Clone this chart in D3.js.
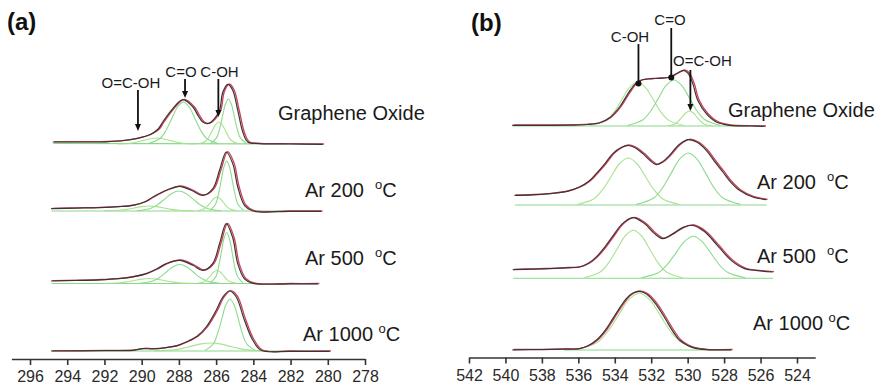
<!DOCTYPE html>
<html><head><meta charset="utf-8">
<script src="https://cdn.jsdelivr.net/npm/d3@7"></script>
<style>
body{margin:0;background:#fff}
svg{display:block;font-family:Arial,"Liberation Sans",sans-serif}
</style>
</head><body>
<svg id="chart" width="876" height="387"></svg>
<script>
// ---------------- DATA (binding energy eV, intensity a.u.) ----------------
// Panel (a) C1s
const a_GO_total = [[294.75,2.3],[293,2.3],[291.9,2.5],[290.9,3.8],[290.27,5.7],[289.55,9.5],[289.1,15],[288.84,22.3],[288.3,35.7],[287.76,44.7],[287.22,37.3],[286.95,29],[286.69,22.3],[286.42,20.7],[286.06,25.7],[285.79,34],[285.61,52.3],[285.34,60],[285.08,54],[284.81,34],[284.54,12.3],[284.27,2.3],[283.64,0.7],[282,0.3],[280.25,0]];
const a_GO_CC = [[284.38,0.5],[284.70,6.1],[284.86,14.6],[285.02,27.3],[285.18,39.7],[285.34,45],[285.50,39.7],[285.66,27.3],[285.82,14.6],[285.98,6.1],[286.30,0.5]];
const a_GO_COH = [[284.80,0.2],[285.15,3],[285.33,7.2],[285.50,13.4],[285.68,19.4],[285.85,22],[286.03,19.4],[286.20,13.4],[286.38,7.2],[286.55,3],[286.90,0.2]];
const a_GO_CO = [[285.90,0.5],[286.52,5.7],[286.83,13.7],[287.14,25.5],[287.45,37],[287.76,42],[288.07,37],[288.38,25.5],[288.69,13.7],[289.00,5.7],[289.62,0.5]];
const a_GO_OCOH = [[287.1,0.1],[287.8,0.8],[288.15,2],[288.5,3.6],[288.85,5.3],[289.2,6],[289.55,5.3],[289.9,3.6],[290.25,2],[290.6,0.8],[291.3,0.1]];
const a_GO_bg = [[294.75,0.6],[280.25,0]];

const a_200_total = [[294.84,2.7],[293.5,3.2],[292.24,3.7],[291.2,4.6],[290.45,6],[289.8,9.5],[289.37,14.3],[288.65,21],[287.94,25],[287.31,21],[286.69,16],[286.15,22.7],[285.79,41],[285.43,59.3],[285.08,47.7],[284.81,24.3],[284.45,6],[284.0,0.3],[282,0],[280.33,0]];
const a_200_CC = [[284.53,0.6],[284.83,6.8],[284.98,16.3],[285.13,30.4],[285.28,44.1],[285.43,50],[285.58,44.1],[285.73,30.4],[285.88,16.3],[286.03,6.8],[286.33,0.6]];
const a_200_COH = [[284.90,0.2],[285.25,1.9],[285.43,4.6],[285.60,8.5],[285.78,12.3],[285.95,14],[286.13,12.3],[286.30,8.5],[286.48,4.6],[286.65,1.9],[287.00,0.2]];
const a_200_CO = [[285.75,0.2],[286.50,2.7],[286.88,6.5],[287.25,12.1],[287.63,17.6],[288.0,20],[288.38,17.6],[288.75,12.1],[289.13,6.5],[289.50,2.7],[290.25,0.2]];
const a_200_OCOH = [[287.2,0.1],[288.0,0.7],[288.4,1.6],[288.8,3],[289.2,4.4],[289.6,5],[290.0,4.4],[290.4,3],[290.8,1.6],[291.2,0.7],[292.0,0.1]];
const a_200_bg = [[294.84,0],[280.33,0]];

const a_500_total = [[294.84,2.8],[293.5,3.3],[292.24,4],[291.2,5.2],[290.45,7],[289.73,10.2],[289.2,14.5],[288.65,20.2],[287.94,23.5],[287.22,18.5],[286.69,13.5],[286.15,20.5],[285.79,40],[285.43,60.2],[285.08,46],[284.81,20],[284.45,5],[284.0,0.5],[282,0],[280.5,0]];
const a_500_CC = [[284.56,0.6],[284.85,6.9],[285.0,16.6],[285.14,31],[285.29,45],[285.43,51],[285.58,45],[285.72,31],[285.87,16.6],[286.01,6.9],[286.30,0.6]];
const a_500_COH = [[284.90,0.1],[285.25,1.8],[285.43,4.2],[285.60,7.9],[285.78,11.5],[285.95,13],[286.13,11.5],[286.30,7.9],[286.48,4.2],[286.65,1.8],[287.00,0.1]];
const a_500_CO = [[285.79,0.2],[286.51,2.6],[286.87,6.2],[287.23,11.5],[287.59,16.8],[287.95,19],[288.31,16.8],[288.67,11.5],[289.03,6.2],[289.39,2.6],[290.11,0.2]];
const a_500_OCOH = [[287.2,0.1],[288.0,0.7],[288.4,1.6],[288.8,3],[289.2,4.4],[289.6,5],[290.0,4.4],[290.4,3],[290.8,1.6],[291.2,0.7],[292.0,0.1]];
const a_500_bg = [[294.84,0],[280.5,0]];

const a_1000_total = [[294.84,0.3],[292,0.6],[290.45,1],[289.91,2.7],[289.4,2.4],[288.65,3.7],[288.1,5.5],[287.58,9.3],[287.0,15],[286.51,24.3],[285.97,41],[285.61,54.3],[285.25,60.3],[284.89,54.3],[284.45,31],[284.0,11],[283.55,1],[282,0],[279.88,0]];
const a_1000_CC = [[283.90,0.6],[284.35,7],[284.58,16.9],[284.80,31.6],[285.03,45.9],[285.25,52],[285.48,45.9],[285.70,31.6],[285.93,16.9],[286.15,7],[286.60,0.6]];
const a_1000_D = [[283.3,0.1],[284.3,1.1],[284.8,2.6],[285.3,4.9],[285.8,7.1],[286.3,8],[286.8,7.1],[287.3,4.9],[287.8,2.6],[288.3,1.1],[289.3,0.1]];
const a_1000_bg = [[294.84,0],[279.88,0]];

// Panel (b) O1s
const b_GO_total = [[539.6,1],[538,1],[536.5,1.2],[535.5,1.8],[534.81,3.5],[534.26,8.5],[533.71,19.3],[533.27,32],[532.9,41.5],[532.55,46],[532.0,47.5],[531.5,48],[530.97,49],[530.55,53],[530.2,56],[529.95,53],[529.69,42.7],[529.42,26],[528.95,12.7],[528.4,4.3],[527.68,1],[526.5,0.3],[525.75,0]];
const b_GO_COH = [[530.2,0.5],[531.05,5.9],[531.48,14.3],[531.9,26.7],[532.33,38.8],[532.75,44],[533.18,38.8],[533.6,26.7],[534.03,14.3],[534.45,5.9],[535.3,0.5]];
const b_GO_CO = [[528.2,0.5],[529.05,6.2],[529.48,15],[529.9,27.9],[530.33,40.6],[530.75,46],[531.18,40.6],[531.6,27.9],[532.03,15],[532.45,6.2],[533.3,0.5]];
const b_GO_OCOH = [[528.7,0.2],[529.1,2],[529.3,4.9],[529.5,9.1],[529.7,13.2],[529.9,15],[530.1,13.2],[530.3,9.1],[530.5,4.9],[530.7,2],[531.1,0.2]];
const b_GO_bg = [[539.6,0],[525.75,0]];

const b_200_total = [[539.48,10],[538.5,10.5],[537.55,11.7],[536.6,14],[535.91,18.3],[535.4,24],[534.99,31.7],[534.5,42],[534.08,51.7],[533.6,58],[533.26,60],[532.85,57.5],[532.43,51.7],[532.05,45],[531.70,40.7],[531.35,43.5],[530.97,50],[530.45,60.5],[529.96,65.7],[529.45,63],[528.95,55],[528.5,44],[528.04,33.3],[527.6,23],[527.13,15],[526.4,8.3],[525.66,5.7]];
const b_200_P1 = [[530.44,0.5],[531.38,6.3],[531.85,15.3],[532.32,28.5],[532.79,41.5],[533.26,47],[533.73,41.5],[534.2,28.5],[534.67,15.3],[535.14,6.3],[536.08,0.5]];
const b_200_P2 = [[527.11,0.6],[528.06,7],[528.54,16.9],[529.01,31.6],[529.49,45.9],[529.96,52],[530.44,45.9],[530.91,31.6],[531.39,16.9],[531.86,7],[532.81,0.6]];
const b_200_bg = [[539.48,0],[525.66,0]];

const b_500_total = [[539.57,9],[538.5,9.5],[537.55,10],[536.6,10.8],[535.91,11.6],[535.4,15.5],[534.97,22],[534.5,32],[534.10,42],[533.55,55],[532.98,61],[532.34,55],[531.79,45],[531.35,40],[530.86,44],[530.25,51],[529.69,53.3],[529.05,47],[528.33,33],[527.57,18],[526.85,10],[526.14,8],[525.31,6.6]];
const b_500_P1 = [[530.28,0.5],[531.18,6.5],[531.63,15.6],[532.08,29.1],[532.53,42.3],[532.98,48],[533.43,42.3],[533.88,29.1],[534.33,15.6],[534.78,6.5],[535.68,0.5]];
const b_500_P2 = [[526.84,0.5],[527.79,5.7],[528.27,13.7],[528.74,25.5],[529.22,37],[529.69,42],[530.17,37],[530.64,25.5],[531.12,13.7],[531.59,5.7],[532.54,0.5]];
const b_500_bg = [[539.57,0],[525.31,0]];

const b_1000_total = [[539.59,0.5],[538,0.7],[536.8,1.2],[535.91,1.7],[535.45,4.5],[534.99,10],[534.5,20],[534.08,31.7],[533.7,42.5],[533.34,51.7],[533.0,57],[532.65,59],[532.25,56.5],[531.88,50],[531.5,40.5],[531.15,30],[530.8,19.5],[530.41,10],[530.0,5],[529.69,2.7],[528.95,0.7],[527.58,0.5]];
const b_1000_P1 = [[529.2,0.6],[530.35,7.7],[530.93,18.5],[531.5,34.6],[532.08,50.3],[532.65,57],[533.23,50.3],[533.8,34.6],[534.38,18.5],[534.95,7.7],[536.1,0.6]];
const b_1000_bg = [[536.8,0],[527.6,0]];

// Axis ticks
const aTicks = [296,294,292,290,288,286,284,282,280,278];
const aMinor = [297,295,293,291,289,287,285,283,281,279];
const bTicks = [542,540,538,536,534,532,530,528,526,524];
const bMinor = [541,539,537,535,533,531,529,527,525,523];

// Sample labels
const sampleNames = ["Graphene Oxide","Ar 200  ","Ar 500  ","Ar 1000 "];
const sampleUnit = ["","oC","oC","oC"];

// Peak annotations (energy of arrow)
const aAnnLabels = ["O=C-OH","C=O","C-OH"];
const aAnnEnergy = [290.2, 287.67, 285.88];
const bAnnLabels = ["C-OH","C=O","O=C-OH"];
const bAnnEnergy = [532.7, 530.9, 529.85];

// ---------------- LAYOUT ----------------
const svg = d3.select("#chart");
const xA = d3.scaleLinear().domain([297,278]).range([11.4,365]);
const xB = d3.scaleLinear().domain([542,523]).range([469,815.2]);

const baseA = [144,211,283.5,351];
const baseB = [126,205,278.3,350];
const labelA = [[278,120],[305,197],[305,265],[303,341]];
const labelB = [[728,117],[757,189],[757,263],[753,330]];

const rowsA = [
  {total:a_GO_total, comps:[a_GO_OCOH,a_GO_CO,a_GO_COH,a_GO_CC], bg:a_GO_bg},
  {total:a_200_total, comps:[a_200_OCOH,a_200_CO,a_200_COH,a_200_CC], bg:a_200_bg},
  {total:a_500_total, comps:[a_500_OCOH,a_500_CO,a_500_COH,a_500_CC], bg:a_500_bg},
  {total:a_1000_total, comps:[a_1000_D,a_1000_CC], bg:a_1000_bg}
];
const rowsB = [
  {total:b_GO_total, comps:[b_GO_COH,b_GO_CO,b_GO_OCOH], bg:b_GO_bg},
  {total:b_200_total, comps:[b_200_P1,b_200_P2], bg:b_200_bg},
  {total:b_500_total, comps:[b_500_P1,b_500_P2], bg:b_500_bg},
  {total:b_1000_total, comps:[b_1000_P1], bg:b_1000_bg}
];

const green = "#8ad98a";
function drawPanel(x, rows, bases, labels){
  const g = svg.append("g");
  rows.forEach((r,i)=>{
    const y = d3.scaleLinear().domain([0,60]).range([bases[i], bases[i]-60]);
    const line = d3.line().x(d=>x(d[0])).y(d=>y(d[1])).curve(d3.curveCatmullRom.alpha(0.5));
    g.append("path").attr("d", line(r.bg)).attr("fill","none").attr("stroke",green).attr("stroke-width",1.1);
    r.comps.forEach((c,k)=>{
      g.append("path").attr("d", line(c)).attr("fill","none")
        .attr("stroke", k%2 ? "#86d986" : "#a6df8c").attr("stroke-width",1.1).attr("opacity",0.95);
    });
    g.append("path").attr("d", line(r.total)).attr("fill","none").attr("stroke","#cf4058").attr("stroke-width",1.3)
      .attr("transform","translate(0.9,0)");
    g.append("path").attr("d", line(r.total)).attr("fill","none").attr("stroke","#3d3535").attr("stroke-width",1.2)
      .attr("transform","translate(-0.5,0.3)");
    const t = g.append("text").attr("x",labels[i][0]).attr("y",labels[i][1])
      .attr("font-size",20).attr("fill","#1a1a1a").style("white-space","pre");
    t.append("tspan").text(sampleNames[i]);
    if(sampleUnit[i]){
      t.append("tspan").attr("font-size",13).attr("dy",-8).text(sampleUnit[i][0]);
      t.append("tspan").attr("dy",8).text(sampleUnit[i].slice(1));
    }
  });
}
drawPanel(xA, rowsA, baseA, labelA);
drawPanel(xB, rowsB, baseB, labelB);

// Axes
function drawAxis(x, ticks, minor, yPos){
  const g = svg.append("g").attr("transform",`translate(0,${yPos})`);
  g.call(d3.axisBottom(x).tickValues(minor).tickSizeInner(3).tickSizeOuter(0).tickFormat(""));
  g.call(d3.axisBottom(x).tickValues(ticks).tickSizeInner(6).tickSizeOuter(0).tickPadding(6).tickFormat(d3.format("d")));
  g.selectAll("path.domain").attr("stroke","#333").attr("stroke-width",1.6);
  g.selectAll("line").attr("stroke","#333").attr("stroke-width",1.6);
  g.selectAll("text").attr("font-size",16).attr("fill","#2a2a2a")
   .attr("font-family","Arial, 'Liberation Sans', sans-serif");
}
drawAxis(xA, aTicks, aMinor, 359);
drawAxis(xB, bTicks, bMinor, 357.5);

// Annotations
function arrowHead(g, x, yTip){
  g.append("path").attr("d",`M${x-3},${yTip-7}L${x+3},${yTip-7}L${x},${yTip}Z`).attr("fill","#111");
}
const ann = svg.append("g").attr("font-size",15).attr("fill","#1a1a1a");
// panel (a)
const aLab = [[131,88],[181,76.5],[219.5,76.5]];
const aArr = [[90,131],[79,98],[79,117]];
aAnnLabels.forEach((l,i)=>{
  ann.append("text").attr("x",aLab[i][0]).attr("y",aLab[i][1]).attr("text-anchor","middle").text(l);
  const xx = xA(aAnnEnergy[i]);
  ann.append("line").attr("x1",xx).attr("x2",xx).attr("y1",aArr[i][0]).attr("y2",aArr[i][1]-5)
    .attr("stroke","#111").attr("stroke-width",1.8);
  arrowHead(ann, xx, aArr[i][1]);
});
// panel (b)
const bLab = [[630,41.5,"middle"],[670,25,"middle"],[673,66,"start"]];
const bArr = [[44,83.5,"dot"],[28,77.5,"dot"],[70,111,"arrow"]];
bAnnLabels.forEach((l,i)=>{
  ann.append("text").attr("x",bLab[i][0]).attr("y",bLab[i][1]).attr("text-anchor",bLab[i][2]).text(l);
  const xx = xB(bAnnEnergy[i]);
  if(bArr[i][2]==="dot"){
    ann.append("line").attr("x1",xx).attr("x2",xx).attr("y1",bArr[i][0]).attr("y2",bArr[i][1])
      .attr("stroke","#111").attr("stroke-width",1.8);
    ann.append("circle").attr("cx",xx).attr("cy",bArr[i][1]).attr("r",3).attr("fill","#111");
  } else {
    ann.append("line").attr("x1",xx).attr("x2",xx).attr("y1",bArr[i][0]).attr("y2",bArr[i][1]-5)
      .attr("stroke","#111").attr("stroke-width",1.8);
    arrowHead(ann, xx, bArr[i][1]);
  }
});

// Panel letters
svg.append("text").attr("x",7).attr("y",30).attr("font-size",24).attr("font-weight","bold").attr("fill","#111").text("(a)");
svg.append("text").attr("x",471).attr("y",31).attr("font-size",24).attr("font-weight","bold").attr("fill","#111").text("(b)");
</script>
</body></html>
